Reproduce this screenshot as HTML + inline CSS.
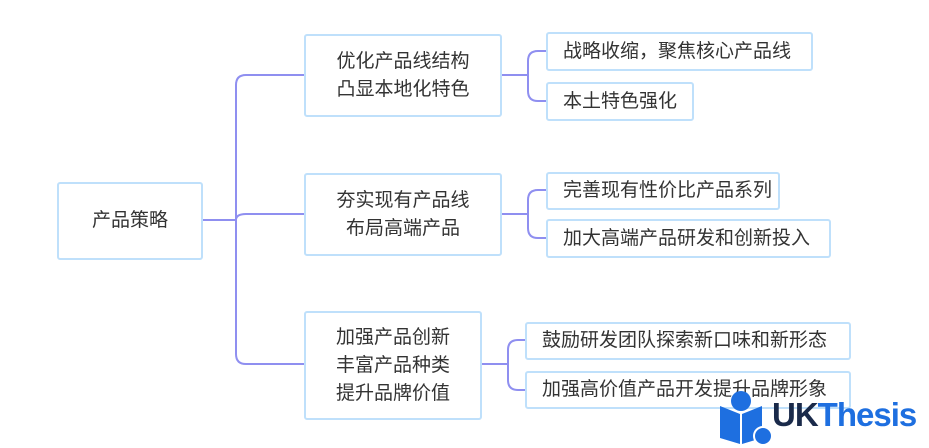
<!DOCTYPE html>
<html><head><meta charset="utf-8"><style>
body{margin:0;width:929px;height:445px;background:#fff;position:relative;overflow:hidden;font-family:"Liberation Sans","Noto Sans CJK SC",sans-serif;}
.b{position:absolute;box-sizing:border-box;border:2px solid #bfe0fb;border-radius:3px;background:#fff;color:#333;font-size:19px;display:flex;align-items:center;justify-content:center;text-align:center;line-height:28px;white-space:nowrap;}
.r{justify-content:flex-start;padding-left:15px;}
</style></head><body>
<svg width="929" height="445" style="position:absolute;left:0;top:0" fill="none" stroke="#8f8ff0" stroke-width="2">
<path d="M202 220 H236"/>
<path d="M304 75 H246 Q236 75 236 85 V354 Q236 364 246 364 H304"/>
<path d="M236 220 Q236 214 246 214 H304"/>
<path d="M501 75 H528 M528 61 V91 Q528 101 538 101 H546 M528 61 Q528 51 538 51 H546"/>
<path d="M501 214 H528 M528 200 Q528 190 538 190 H546 M528 200 V228 Q528 238 538 238 H546"/>
<path d="M481 364 H508 M508 350 Q508 340 518 340 H525 M508 350 V380 Q508 390 518 390 H525"/>
</svg>
<div class="b" style="left:57px;top:182px;width:146px;height:78px">产品策略</div>
<div class="b" style="left:304px;top:34px;width:198px;height:83px">优化产品线结构<br>凸显本地化特色</div>
<div class="b" style="left:304px;top:173px;width:198px;height:83px">夯实现有产品线<br>布局高端产品</div>
<div class="b" style="left:304px;top:311px;width:178px;height:109px">加强产品创新<br>丰富产品种类<br>提升品牌价值</div>
<div class="b r" style="left:546px;top:32px;width:267px;height:39px">战略收缩，聚焦核心产品线</div>
<div class="b r" style="left:546px;top:82px;width:148px;height:39px">本土特色强化</div>
<div class="b r" style="left:546px;top:172px;width:234px;height:38px">完善现有性价比产品系列</div>
<div class="b r" style="left:546px;top:219px;width:285px;height:39px">加大高端产品研发和创新投入</div>
<div class="b r" style="left:525px;top:322px;width:326px;height:38px">鼓励研发团队探索新口味和新形态</div>
<div class="b r" style="left:525px;top:371px;width:326px;height:38px">加强高价值产品开发提升品牌形象</div>
<svg width="60" height="60" style="position:absolute;left:717px;top:388px">
<circle cx="24" cy="13" r="10" fill="#1e6fe0"/>
<path d="M3 18 L23 26 L23 56 L3 50Z M45 18 L25 26 L25 56 L45 50Z" fill="#1e6fe0"/>
<circle cx="46" cy="48" r="9" fill="#1e6fe0" stroke="#fff" stroke-width="2"/>
</svg>
<div style="position:absolute;left:772px;top:395px;font-size:33px;font-weight:bold;line-height:40px;letter-spacing:-1px;white-space:nowrap"><span style="color:#1a2a4a">UK</span><span style="color:#1e6fe0">Thesis</span></div>
</body></html>
